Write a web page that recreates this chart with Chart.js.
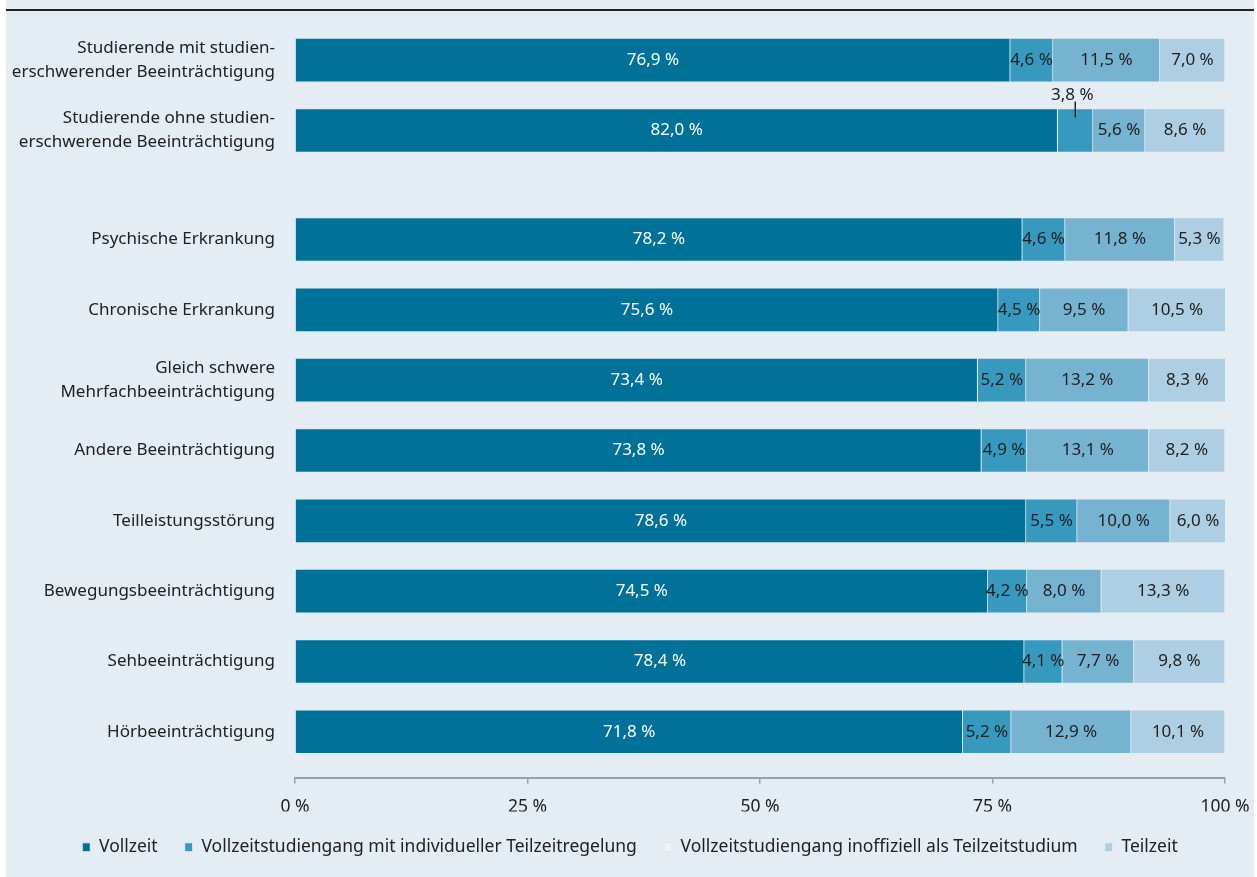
<!DOCTYPE html>
<html lang="de">
<head>
<meta charset="utf-8">
<script src="https://cdn.jsdelivr.net/npm/chart.js@4.4.1/dist/chart.umd.min.js"></script>
<style>
  html, body { margin: 0; padding: 0; background: #fff; }
  #panel { position: absolute; left: 6px; top: 0; width: 1248px; height: 877px; background: #e3edf3; }
  #rule { position: absolute; left: 0; right: 0; top: 9px; height: 2px; background: #222; }
  #wrap { position: absolute; left: 0; top: 0; width: 1248px; height: 877px; }
</style>
</head>
<body>
<div id="panel">
  <div id="rule"></div>
  <div id="wrap"><canvas id="chart"></canvas></div>
</div>
<script>
const categories = [
  ["Studierende mit studien-", "erschwerender Beeinträchtigung"],
  ["Studierende ohne studien-", "erschwerende Beeinträchtigung"],
  "Psychische Erkrankung",
  "Chronische Erkrankung",
  ["Gleich schwere", "Mehrfachbeeinträchtigung"],
  "Andere Beeinträchtigung",
  "Teilleistungsstörung",
  "Bewegungsbeeinträchtigung",
  "Sehbeeinträchtigung",
  "Hörbeeinträchtigung"
];
const vollzeit    = [76.9, 82.0, 78.2, 75.6, 73.4, 73.8, 78.6, 74.5, 78.4, 71.8];
const individuell = [4.6, 3.8, 4.6, 4.5, 5.2, 4.9, 5.5, 4.2, 4.1, 5.2];
const inoffiziell = [11.5, 5.6, 11.8, 9.5, 13.2, 13.1, 10.0, 8.0, 7.7, 12.9];
const teilzeit    = [7.0, 8.6, 5.3, 10.5, 8.3, 8.2, 6.0, 13.3, 9.8, 10.1];
const xTicks = [0, 25, 50, 75, 100];

const FONT = '"Noto Sans", "Open Sans", sans-serif';

// first two rows form their own group, a bit of extra space before the impairment types
const rowPos = categories.map((c, i) => (i < 2 ? i : i + 0.55));

const fmt = (v) => v.toFixed(1).replace('.', ',') + ' %';
const toPoints = (values) => values.map((v, i) => ({ x: v, y: rowPos[i] }));

// value labels inside each segment; very narrow segments get the label above with a leader line
const barLabels = {
  id: 'barLabels',
  afterDatasetsDraw(chart) {
    const ctx = chart.ctx;
    ctx.save();
    ctx.font = '17px ' + FONT;
    ctx.textAlign = 'center';
    ctx.textBaseline = 'middle';
    ctx.strokeStyle = '#222';
    ctx.lineWidth = 1.5;
    chart.data.datasets.forEach((ds, di) => {
      const meta = chart.getDatasetMeta(di);
      meta.data.forEach((bar, i) => {
        const v = ds.data[i].x;
        const cx = (bar.x + bar.base) / 2;
        ctx.fillStyle = di === 0 ? '#ffffff' : '#222222';
        if (v < 4) {
          const top = bar.y - bar.height / 2;
          ctx.fillText(fmt(v), cx - 3, top - 13);
          ctx.beginPath();
          ctx.moveTo(cx, top - 7);
          ctx.lineTo(cx, top + 9);
          ctx.stroke();
        } else {
          ctx.fillText(fmt(v), cx, bar.y);
        }
      });
    });
    ctx.restore();
  }
};

const series = [
  { label: 'Vollzeit', data: vollzeit, color: '#00729a' },
  { label: 'Vollzeitstudiengang mit individueller Teilzeitregelung', data: individuell, color: '#3799be' },
  { label: 'Vollzeitstudiengang inoffiziell als Teilzeitstudium', data: inoffiziell, color: '#76b3d1' },
  { label: 'Teilzeit', data: teilzeit, color: '#aecfe3' }
];

new Chart(document.getElementById('chart'), {
  type: 'bar',
  data: {
    datasets: series.map((s) => ({
      label: s.label,
      data: toPoints(s.data),
      backgroundColor: s.color,
      borderColor: '#e6ecef',
      borderWidth: 1,
      barThickness: 44
    }))
  },
  options: {
    indexAxis: 'y',
    responsive: true,
    maintainAspectRatio: false,
    animation: false,
    layout: { padding: { top: 18, right: 0, bottom: 11, left: 0 } },
    scales: {
      x: {
        type: 'linear',
        stacked: true,
        min: 0,
        max: 100,
        afterBuildTicks: (scale) => { scale.ticks = xTicks.map((v) => ({ value: v })); },
        afterFit: (scale) => {
          scale.height = 34;
          scale.paddingLeft = 0;
          scale.paddingRight = 29;
        },
        ticks: {
          callback: (v) => v + ' %',
          color: '#222',
          font: { family: FONT, size: 17.5 },
          padding: 13,
          maxRotation: 0
        },
        grid: { drawOnChartArea: false, drawTicks: true, tickLength: 6, color: '#9aa2a7', lineWidth: 1.5 },
        border: { display: true, color: '#9aa2a7', width: 2 }
      },
      y: {
        type: 'linear',
        stacked: true,
        reverse: true,
        offset: false,
        min: -0.6,
        max: 10.2,
        afterBuildTicks: (scale) => { scale.ticks = rowPos.map((v) => ({ value: v })); },
        afterFit: (scale) => {
          scale.width = 289;
          scale.paddingTop = 0;
          scale.paddingBottom = 0;
        },
        ticks: {
          autoSkip: false,
          callback: (v, i) => categories[i],
          color: '#222',
          font: { family: FONT, size: 17, lineHeight: 1.42 },
          padding: 12
        },
        grid: { display: false, offset: false },
        border: { display: false }
      }
    },
    plugins: {
      legend: {
        position: 'bottom',
        labels: {
          color: '#222',
          font: { family: FONT, size: 17.5 },
          boxWidth: 8,
          boxHeight: 9,
          padding: 27,
          generateLabels(chart) {
            const items = Chart.defaults.plugins.legend.labels.generateLabels(chart);
            items[2].fillStyle = '#eef3f6';
            items[2].strokeStyle = '#e2e9ed';
            return items;
          }
        }
      },
      tooltip: { enabled: false }
    }
  },
  plugins: [barLabels]
});
</script>
</body>
</html>
